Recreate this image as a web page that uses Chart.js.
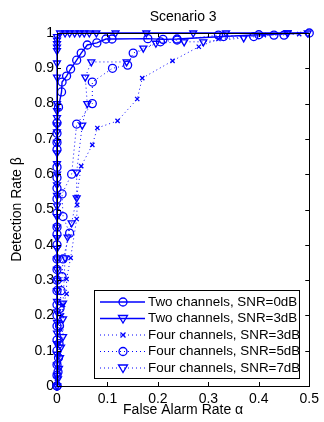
<!DOCTYPE html>
<html>
<head>
<meta charset="utf-8">
<script src="https://cdn.jsdelivr.net/npm/chart.js@4.4.0/dist/chart.umd.min.js"></script>
<style>
  html, body { margin: 0; padding: 0; background: #fff; }
  #wrap { width: 324px; height: 422px; }
</style>
</head>
<body>
<div id="wrap"><canvas id="roc"></canvas></div>
<script>
// Two channels, SNR=0dB (solid, circles)
var twoCh0x = [0, 0, 0, 0, 0, 0, 0, 0, 0, 0, 0, 0, 0, 0, 0, 0, 0, 0, 0, 0, 0, 0, 0, 0, 0.003, 0.009, 0.01, 0.019, 0.027, 0.039, 0.048, 0.06, 0.079, 0.097, 0.109, 0.18, 0.21, 0.238, 0.33, 0.4, 0.5];
var twoCh0y = [0, 0.03, 0.06, 0.1, 0.13, 0.17, 0.2, 0.23, 0.27, 0.3, 0.33, 0.36, 0.4, 0.43, 0.45, 0.49, 0.53, 0.56, 0.59, 0.62, 0.67, 0.69, 0.716, 0.745, 0.79, 0.833, 0.861, 0.878, 0.898, 0.923, 0.943, 0.966, 0.972, 0.983, 0.983, 0.984, 0.982, 0.983, 0.99, 0.995, 1.0];

// Two channels, SNR=3dB (solid, triangles)
var twoCh3x = [0, 0, 0, 0, 0, 0, 0, 0, 0, 0, 0, 0, 0, 0, 0, 0, 0, 0, 0, 0, 0, 0, 0, 0, 0, 0, 0, 0, 0, 0, 0, 0, 0, 0, 0, 0, 0.006, 0.016, 0.025, 0.035, 0.045, 0.054, 0.064, 0.078, 0.116, 0.177, 0.27, 0.335, 0.457, 0.497];
var twoCh3y = [0, 0.03, 0.06, 0.09, 0.12, 0.15, 0.18, 0.21, 0.24, 0.27, 0.3, 0.33, 0.36, 0.39, 0.42, 0.45, 0.48, 0.51, 0.54, 0.57, 0.6, 0.63, 0.66, 0.69, 0.72, 0.74, 0.76, 0.78, 0.8, 0.875, 0.915, 0.95, 0.96, 0.97, 0.98, 0.99, 1, 1, 1, 1, 1, 1, 1, 1, 1, 1, 1, 1, 1, 1];

// Four channels, SNR=3dB (dotted, x marks)
var fourCh3x = [0, 0, 0.002, 0.003, 0.005, 0.007, 0.01, 0.012, 0.019, 0.019, 0.027, 0.039, 0.04, 0.039, 0.048, 0.07, 0.08, 0.12, 0.159, 0.169, 0.229, 0.281, 0.32, 0.41, 0.48];
var fourCh3y = [0, 0.02, 0.05, 0.08, 0.12, 0.16, 0.2, 0.23, 0.261, 0.303, 0.363, 0.473, 0.513, 0.536, 0.623, 0.683, 0.731, 0.751, 0.813, 0.872, 0.921, 0.961, 0.983, 0.994, 0.997];

// Four channels, SNR=5dB (dotted, circles)
var fourCh5x = [0, 0.002, 0.003, 0.004, 0.005, 0.006, 0.008, 0.01, 0.012, 0.025, 0.012, 0.01, 0.029, 0.039, 0.07, 0.07, 0.11, 0.14, 0.151, 0.205, 0.238, 0.32, 0.39, 0.43, 0.45];
var fourCh5y = [0, 0.04, 0.08, 0.12, 0.17, 0.22, 0.27, 0.31, 0.36, 0.433, 0.48, 0.544, 0.6, 0.742, 0.8, 0.861, 0.9, 0.909, 0.943, 0.975, 0.98, 0.994, 0.99, 0.994, 0.994];

// Four channels, SNR=7dB (dotted, triangles)
var fourCh7x = [0, 0.002, 0.004, 0.006, 0.008, 0.012, 0.012, 0.012, 0.016, 0.021, 0.029, 0.039, 0.039, 0.05, 0.06, 0.056, 0.068, 0.138, 0.171, 0.196, 0.252, 0.29, 0.37, 0.457];
var fourCh7y = [0, 0.02, 0.05, 0.08, 0.11, 0.14, 0.19, 0.235, 0.363, 0.422, 0.462, 0.533, 0.606, 0.739, 0.8, 0.875, 0.918, 0.918, 0.957, 0.971, 0.975, 0.975, 0.986, 1];

var legendLabels = ['Two channels, SNR=0dB', 'Two channels, SNR=3dB', 'Four channels, SNR=3dB', 'Four channels, SNR=5dB', 'Four channels, SNR=7dB'];
var xTicks = [0, 0.1, 0.2, 0.3, 0.4, 0.5];
var yTicks = [0, 0.1, 0.2, 0.3, 0.4, 0.5, 0.6, 0.7, 0.8, 0.9, 1];

var BLUE = '#0000ff';
var FONT = '"Liberation Sans", Arial, sans-serif';

function pts(xs, ys) {
  var out = [];
  for (var i = 0; i < xs.length; i++) out.push({ x: xs[i], y: ys[i] });
  return out;
}

function series(label, xs, ys, style, rot, dotted) {
  return {
    label: label,
    data: pts(xs, ys),
    showLine: true,
    borderColor: BLUE,
    backgroundColor: 'rgba(0,0,0,0)',
    borderWidth: dotted ? 1 : 1.4,
    borderDash: dotted ? [1, 3] : [],
    pointStyle: style,
    pointRotation: rot,
    pointRadius: style === 'crossRot' ? 3 : 4,
    pointBorderWidth: 1.3,
    pointBorderColor: BLUE,
    pointBackgroundColor: 'rgba(0,0,0,0)',
    clip: 8
  };
}

var datasets = [
  series(legendLabels[0], twoCh0x, twoCh0y, 'circle', 0, false),
  series(legendLabels[1], twoCh3x, twoCh3y, 'triangle', 180, false),
  series(legendLabels[2], fourCh3x, fourCh3y, 'crossRot', 0, true),
  series(legendLabels[3], fourCh5x, fourCh5y, 'circle', 0, true),
  series(legendLabels[4], fourCh7x, fourCh7y, 'triangle', 180, true)
];

// marker used in the legend box
function marker(ctx, style, x, y) {
  ctx.save();
  ctx.setLineDash([]);
  ctx.lineWidth = 1.3;
  ctx.strokeStyle = BLUE;
  ctx.beginPath();
  if (style === 'circle') {
    ctx.arc(x, y, 4, 0, Math.PI * 2);
  } else if (style === 'triangle') {
    ctx.moveTo(x - 4.5, y - 3);
    ctx.lineTo(x + 4.5, y - 3);
    ctx.lineTo(x, y + 4.5);
    ctx.closePath();
  } else {
    ctx.moveTo(x - 2.5, y - 2.5); ctx.lineTo(x + 2.5, y + 2.5);
    ctx.moveTo(x - 2.5, y + 2.5); ctx.lineTo(x + 2.5, y - 2.5);
  }
  ctx.stroke();
  ctx.restore();
}

var framePlugin = {
  id: 'frame',
  afterDatasetsDraw: function(chart) {
    var ctx = chart.ctx;
    var a = chart.chartArea;
    var xs = chart.scales.x, ys = chart.scales.y;
    ctx.save();
    ctx.strokeStyle = '#000';
    ctx.lineWidth = 1;
    ctx.setLineDash([]);
    // box
    ctx.strokeRect(Math.round(a.left) + 0.5, Math.round(a.top) + 0.5, Math.round(a.right - a.left), Math.round(a.bottom - a.top));
    // inward ticks on all four sides
    ctx.beginPath();
    xTicks.forEach(function(v) {
      var px = Math.round(xs.getPixelForValue(v)) + 0.5;
      ctx.moveTo(px, a.bottom); ctx.lineTo(px, a.bottom - 4);
      ctx.moveTo(px, a.top); ctx.lineTo(px, a.top + 4);
    });
    yTicks.forEach(function(v) {
      var py = Math.round(ys.getPixelForValue(v)) + 0.5;
      ctx.moveTo(a.left, py); ctx.lineTo(a.left + 4, py);
      ctx.moveTo(a.right, py); ctx.lineTo(a.right - 4, py);
    });
    ctx.stroke();

    // titles
    ctx.fillStyle = '#000';
    ctx.font = '14px ' + FONT;
    ctx.textAlign = 'center';
    ctx.textBaseline = 'middle';
    var cx = (a.left + a.right) / 2;
    ctx.fillText('Scenario 3', cx, 17);
    ctx.fillText('False Alarm Rate \u03b1', cx, 410);
    ctx.save();
    ctx.translate(17, (a.top + a.bottom) / 2);
    ctx.rotate(-Math.PI / 2);
    ctx.fillText('Detection Rate \u03b2', 0, 0);
    ctx.restore();

    // legend inside the plot, lower right
    var lx = a.left + 37, lr = a.right - 10, lb = a.bottom - 8, lt = lb - 88;
    ctx.fillStyle = '#fff';
    ctx.fillRect(lx, lt, lr - lx, lb - lt);
    ctx.strokeStyle = '#000';
    ctx.strokeRect(Math.round(lx) + 0.5, Math.round(lt) + 0.5, Math.round(lr - lx), Math.round(lb - lt));
    var styles = ['circle', 'triangle', 'crossRot', 'circle', 'triangle'];
    var dotted = [false, false, true, true, true];
    ctx.font = '13.4px ' + FONT;
    for (var i = 0; i < legendLabels.length; i++) {
      var ry = lt + 12 + i * 16.5;
      ctx.save();
      ctx.strokeStyle = BLUE;
      ctx.lineWidth = dotted[i] ? 1 : 1.4;
      ctx.setLineDash(dotted[i] ? [1, 3] : []);
      ctx.beginPath();
      ctx.moveTo(lx + 6, ry); ctx.lineTo(lx + 51, ry);
      ctx.stroke();
      ctx.restore();
      marker(ctx, styles[i], lx + 29, ry);
      ctx.fillStyle = '#000';
      ctx.textAlign = 'left';
      ctx.fillText(legendLabels[i], lx + 54, ry);
    }
    ctx.restore();
  }
};

var ctx = document.getElementById('roc').getContext('2d');
var chart = new Chart(ctx, {
  type: 'scatter',
  data: { datasets: datasets },
  options: {
    responsive: true,
    maintainAspectRatio: false,
    animation: false,
    layout: { padding: { top: 33, right: 9, left: 0, bottom: 0 } },
    plugins: {
      legend: { display: false },
      tooltip: { enabled: false },
      title: { display: false }
    },
    scales: {
      x: {
        type: 'linear',
        min: 0, max: 0.5,
        afterFit: function(s) { s.height = 36; },
        afterBuildTicks: function(s) { s.ticks = xTicks.map(function(v) { return { value: v }; }); },
        grid: { display: false, drawTicks: false },
        border: { display: false },
        ticks: { padding: 5, color: '#000', font: { size: 14, family: FONT }, maxRotation: 0,
          callback: function(v) { return String(v); } }
      },
      y: {
        type: 'linear',
        min: 0, max: 1,
        afterFit: function(s) { s.width = 57; },
        afterBuildTicks: function(s) { s.ticks = yTicks.map(function(v) { return { value: v }; }); },
        grid: { display: false, drawTicks: false },
        border: { display: false },
        ticks: { padding: 3, color: '#000', font: { size: 14, family: FONT },
          callback: function(v) { return String(v); } }
      }
    }
  },
  plugins: [framePlugin]
});
</script>
</body>
</html>
